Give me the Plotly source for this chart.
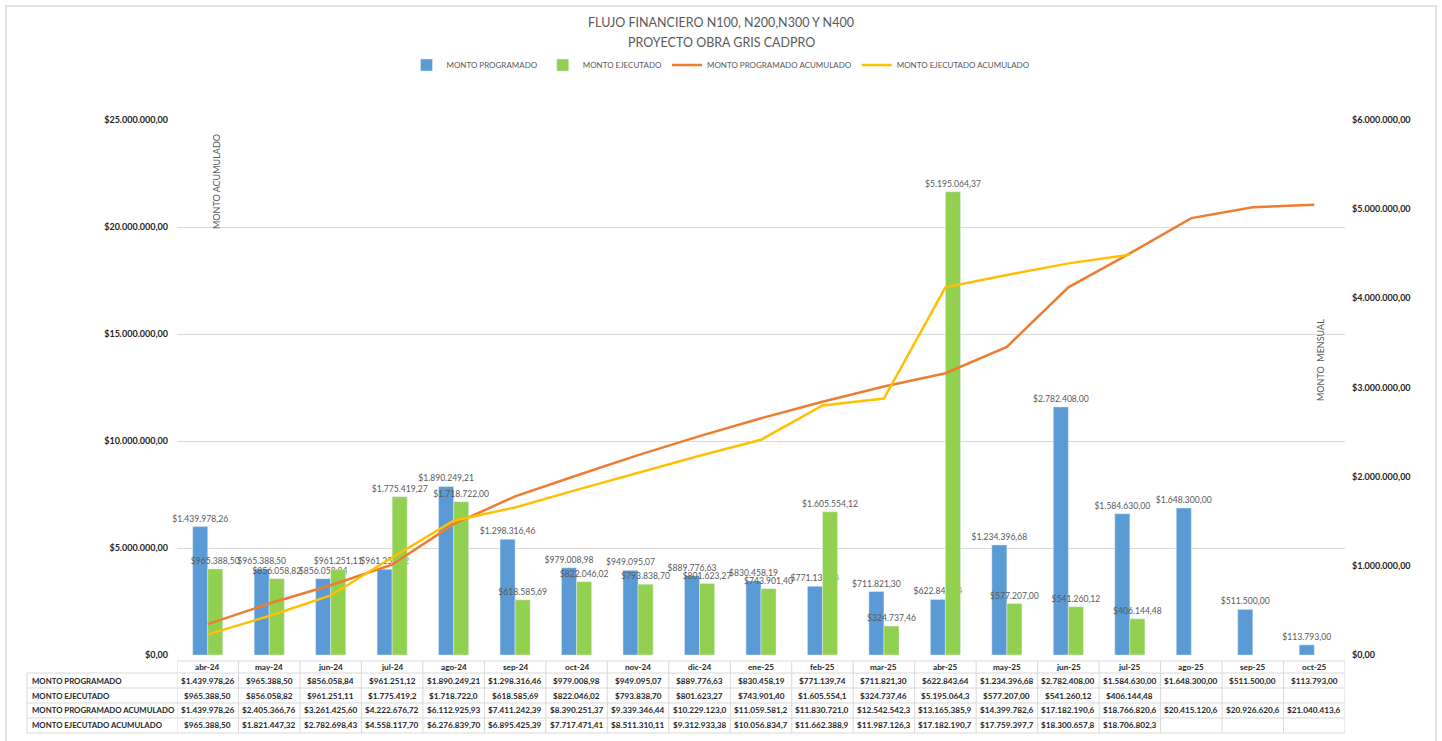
import plotly.graph_objects as go

# ---------------- data ----------------
months = ["abr-24", "may-24", "jun-24", "jul-24", "ago-24", "sep-24", "oct-24", "nov-24",
          "dic-24", "ene-25", "feb-25", "mar-25", "abr-25", "may-25", "jun-25", "jul-25",
          "ago-25", "sep-25", "oct-25"]

monto_programado = [1439978.26, 965388.50, 856058.84, 961251.12, 1890249.21, 1298316.46,
                    979008.98, 949095.07, 889776.63, 830458.19, 771139.74, 711821.30,
                    622843.64, 1234396.68, 2782408.00, 1584630.00, 1648300.00, 511500.00,
                    113793.00]

monto_ejecutado = [965388.50, 856058.82, 961251.11, 1775419.27, 1718722.00, 618585.69,
                   822046.02, 793838.70, 801623.27, 743901.40, 1605554.12, 324737.46,
                   5195064.37, 577207.00, 541260.12, 406144.48]

programado_acumulado = [1439978.26, 2405366.76, 3261425.60, 4222676.72, 6112925.93,
                        7411242.39, 8390251.37, 9339346.44, 10229123.0, 11059581.2,
                        11830721.0, 12542542.3, 13165385.9, 14399782.6, 17182190.6,
                        18766820.6, 20415120.6, 20926620.6, 21040413.6]

ejecutado_acumulado = [965388.50, 1821447.32, 2782698.43, 4558117.70, 6276839.70,
                       6895425.39, 7717471.41, 8511310.11, 9312933.38, 10056834.7,
                       11662388.9, 11987126.3, 17182190.7, 17759397.7, 18300657.8,
                       18706802.3]

row_labels = ["MONTO PROGRAMADO", "MONTO EJECUTADO",
              "MONTO PROGRAMADO ACUMULADO", "MONTO EJECUTADO ACUMULADO"]
row_max_chars = [13, 12, 13, 13]

title_lines = ["FLUJO FINANCIERO N100, N200,N300 Y N400", "PROYECTO OBRA GRIS CADPRO"]

# ---------------- helpers ----------------
W, H = 1442, 741
L, R, T, B = 177, 1345, 120, 655


def px(x):
    return (x - L) / (R - L)


def py(y):
    return (B - y) / (B - T)


def money(v):
    s = f"{v:,.2f}"
    s = s.replace(",", "X").replace(".", ",").replace("X", ".")
    return "$" + s


FONT = "Lato, 'Open Sans', sans-serif"
BLUE, GREEN, ORANGE, YELLOW = "#5B9BD5", "#92D050", "#ED7D31", "#FFC000"
GRID = "#D9D9D9"
TXT = "#595959"

fig = go.Figure()

fig.add_trace(go.Bar(
    x=months, y=monto_programado, name="MONTO PROGRAMADO", marker_color=BLUE,
    text=[money(v) for v in monto_programado], textposition="outside", textangle=0,
    constraintext="none", cliponaxis=False,
    textfont=dict(family=FONT, size=8.6, color=TXT), yaxis="y"))
fig.add_trace(go.Bar(
    x=months[:len(monto_ejecutado)], y=monto_ejecutado, name="MONTO EJECUTADO",
    marker_color=GREEN,
    text=[money(v) for v in monto_ejecutado], textposition="outside", textangle=0,
    constraintext="none", cliponaxis=False,
    textfont=dict(family=FONT, size=8.6, color=TXT), yaxis="y"))
fig.add_trace(go.Scatter(
    x=months, y=programado_acumulado, name="MONTO PROGRAMADO ACUMULADO", mode="lines",
    line=dict(color=ORANGE, width=2.5), yaxis="y2"))
fig.add_trace(go.Scatter(
    x=months[:len(ejecutado_acumulado)], y=ejecutado_acumulado,
    name="MONTO EJECUTADO ACUMULADO", mode="lines",
    line=dict(color=YELLOW, width=2.5), yaxis="y2"))

tickfont = dict(family=FONT, size=9, color="#262626", weight="bold")

fig.update_layout(
    width=W, height=H,
    margin=dict(l=L, r=W - R, t=T, b=H - B),
    paper_bgcolor="white", plot_bgcolor="white",
    separators=",.",
    barmode="group", bargap=0.51, bargroupgap=0,
    showlegend=True,
    legend=dict(orientation="h", x=px(721), xanchor="center", y=py(65), yanchor="middle",
                font=dict(family=FONT, size=8, color=TXT), bgcolor="rgba(0,0,0,0)",
                traceorder="normal"),
    xaxis=dict(type="category", range=[-0.5, len(months) - 0.5], showticklabels=False,
               showgrid=False, showline=False, zeroline=False, ticks=""),
    yaxis=dict(side="right", range=[0, 6e6], dtick=1e6, tickformat="$,.2f",
               showgrid=False, zeroline=False, showline=False, ticks="",
               tickfont=tickfont, ticklabelstandoff=6),
    yaxis2=dict(side="left", overlaying="y", range=[0, 25e6], dtick=5e6,
                tickformat="$,.2f", showgrid=True, gridcolor=GRID, gridwidth=1,
                zeroline=False, showline=False, ticks="", tickfont=tickfont,
                ticklabelstandoff=8),
)

ann = []
# title lines
for line_text, yy in zip(title_lines, [22, 42]):
    ann.append(dict(text=line_text, x=px(721), y=py(yy), xref="paper", yref="paper",
                    showarrow=False, xanchor="center", yanchor="middle",
                    font=dict(family=FONT, size=12.5, color=TXT)))
# axis titles
ann.append(dict(text="MONTO ACUMULADO", x=px(217), y=py(182), xref="paper", yref="paper",
                textangle=-90, showarrow=False, xanchor="center", yanchor="middle",
                font=dict(family=FONT, size=9, color=TXT)))
ann.append(dict(text="MONTO  MENSUAL", x=px(1320), y=py(360), xref="paper", yref="paper",
                textangle=-90, showarrow=False, xanchor="center", yanchor="middle",
                font=dict(family=FONT, size=9, color=TXT)))

# data table
cellfont = dict(family=FONT, size=8.2, color="#262626", weight="bold")
labelfont = dict(family=FONT, size=7.8, color="#262626", weight="bold")
header_y = 667
row_ys = [680.5, 695.5, 710, 725]
row_values = [monto_programado, monto_ejecutado, programado_acumulado, ejecutado_acumulado]

for i, m in enumerate(months):
    ann.append(dict(text=m, x=m, xref="x", y=py(header_y), yref="paper", showarrow=False,
                    xanchor="center", yanchor="middle", font=cellfont))
for r, (lab, vals, mx, yy) in enumerate(zip(row_labels, row_values, row_max_chars, row_ys)):
    ann.append(dict(text=lab, x=px(30), xref="paper", y=py(yy), yref="paper",
                    showarrow=False, xanchor="left", yanchor="middle", font=labelfont))
    for i, v in enumerate(vals):
        ann.append(dict(text=money(v)[:mx], x=months[i], xref="x", y=py(yy), yref="paper",
                        showarrow=False, xanchor="center", yanchor="middle", font=cellfont))
fig.update_layout(annotations=ann)

shapes = []
lc = dict(color=GRID, width=1)
# horizontal table lines
shapes.append(dict(type="line", xref="paper", yref="paper", x0=0, x1=1,
                   y0=py(661), y1=py(661), line=lc))
for yl in [673, 688, 703, 718, 733]:
    shapes.append(dict(type="line", xref="paper", yref="paper", x0=px(27), x1=1,
                       y0=py(yl), y1=py(yl), line=lc))
# vertical table lines
shapes.append(dict(type="line", xref="paper", yref="paper", x0=px(27), x1=px(27),
                   y0=py(673), y1=py(733), line=lc))
for k in range(len(months) + 1):
    shapes.append(dict(type="line", xref="x", yref="paper", x0=k - 0.5, x1=k - 0.5,
                       y0=py(661), y1=py(733), line=lc))
# chart border
shapes.append(dict(type="rect", xref="paper", yref="paper", x0=px(6), x1=px(1436),
                   y0=py(745), y1=py(6), line=dict(color=GRID, width=1.5),
                   fillcolor="rgba(0,0,0,0)"))
fig.update_layout(shapes=shapes)

fig.write_html("out.html", config={"displayModeBar": False},
               post_script="document.body.style.margin='0';document.body.style.overflow='hidden';")
